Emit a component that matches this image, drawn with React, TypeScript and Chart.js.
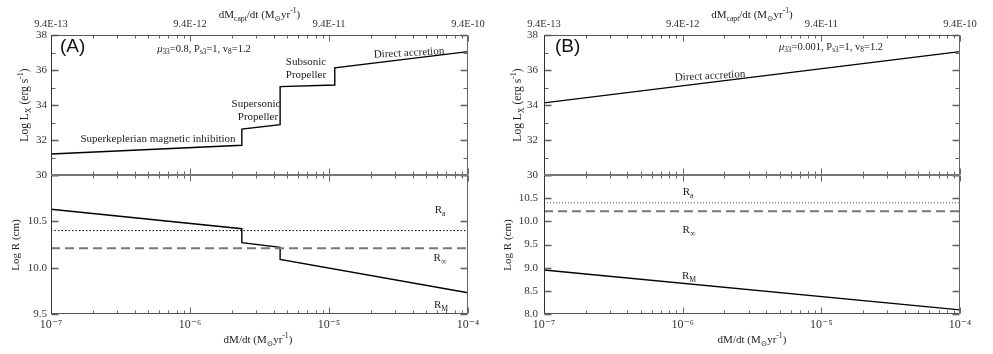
import React, { useEffect, useRef } from 'react';
import { Chart, registerables } from 'chart.js';
Chart.register(...registerables);

// ---------------- data ----------------
const X_MIN = 1e-7;
const X_MAX = 1e-4;
const X_MAJOR = [1e-7, 1e-6, 1e-5, 1e-4];
const X_BOTTOM_LABELS = ['10⁻⁷', '10⁻⁶', '10⁻⁵', '10⁻⁴'];
const X_TOP_LABELS = ['9.4E-13', '9.4E-12', '9.4E-11', '9.4E-10'];

const LX_MIN = 30;
const LX_MAX = 38;
const LX_LABELS = [30, 32, 34, 36, 38];

// Panel A
const A_LX_MDOT = [1e-7, 2.36e-6, 2.36e-6, 4.45e-6, 4.45e-6, 1.1e-5, 1.1e-5, 1e-4];
const A_LX_LOG = [31.2, 31.7, 32.62, 32.88, 35.05, 35.14, 36.12, 37.05];
const A_RM_MDOT = [1e-7, 2.36e-6, 2.36e-6, 4.45e-6, 4.45e-6, 1e-4];
const A_RM_LOG = [10.63, 10.42, 10.27, 10.22, 10.09, 9.73];
const A_RA = 10.4;
const A_RINF = 10.21;
const A_R_MIN = 9.5;
const A_R_MAX = 11.0;
const A_R_LABELS = [9.5, 10.0, 10.5];

// Panel B
const B_LX_MDOT = [1e-7, 1e-4];
const B_LX_LOG = [34.12, 37.05];
const B_RM_MDOT = [1e-7, 1e-4];
const B_RM_LOG = [8.95, 8.09];
const B_RA = 10.4;
const B_RINF = 10.22;
const B_R_MIN = 8.0;
const B_R_MAX = 11.0;
const B_R_LABELS = [8.0, 8.5, 9.0, 9.5, 10.0, 10.5];

const FLAT_MDOT = [1e-7, 1e-4];

// ---------------- styling helpers ----------------
const SERIF = '"Liberation Serif", "DejaVu Serif", serif';
const SANS = '"Liberation Sans", Arial, sans-serif';
const TXT = '#222';

type Part = [string, string?];
type TextItem = {
  x: number; y: number; parts: Part[]; size?: number;
  align?: 'left' | 'center'; rot?: number; family?: string; color?: string;
};

const TOP_TITLE: Part[] = [['dM'], ['capt', 'sub'], ['/dt (M'], ['⊙', 'sub'], ['yr'], ['-1', 'sup'], [')']];
const BOTTOM_TITLE: Part[] = [['dM/dt (M'], ['⊙', 'sub'], ['yr'], ['-1', 'sup'], [')']];
const LX_TITLE: Part[] = [['Log L'], ['X', 'sub'], [' (erg s'], ['-1', 'sup'], [')']];
const R_TITLE: Part[] = [['Log R (cm)']];

function drawRich(ctx: CanvasRenderingContext2D, t: TextItem, offX: number, offY: number) {
  const size = t.size ?? 11;
  const family = t.family ?? SERIF;
  const fontFor = (k?: string) => {
    const s = k === 'sub' || k === 'sup' ? size * 0.7 : size;
    return `${k === 'i' ? 'italic ' : ''}${s}px ${family}`;
  };
  ctx.save();
  ctx.translate(t.x - offX, t.y - offY);
  if (t.rot) ctx.rotate((t.rot * Math.PI) / 180);
  ctx.fillStyle = t.color ?? TXT;
  ctx.textBaseline = 'middle';
  ctx.textAlign = 'left';
  let total = 0;
  const ws = t.parts.map(([s, k]) => {
    ctx.font = fontFor(k);
    const w = ctx.measureText(s).width;
    total += w;
    return w;
  });
  let cx = t.align === 'left' ? 0 : -total / 2;
  t.parts.forEach(([s, k], i) => {
    ctx.font = fontFor(k);
    const dy = k === 'sub' ? size * 0.32 : k === 'sup' ? -size * 0.38 : 0;
    ctx.fillText(s, cx, dy);
    cx += ws[i];
  });
  ctx.restore();
}

function xTickValues() {
  const arr: number[] = [];
  for (let d = -7; d < -4; d++) for (let m = 1; m <= 9; m++) arr.push(m * Math.pow(10, d));
  arr.push(1e-4);
  return arr;
}
const isMajorX = (v: number) => X_MAJOR.some((m) => Math.abs(Math.log10(m) - Math.log10(v)) < 1e-6);

function lineDs(xs: number[], ys: number[], color: string, width: number, dash: number[] = []) {
  return {
    data: xs.map((x, i) => ({ x, y: ys[i] })),
    showLine: true,
    borderColor: color,
    borderWidth: width,
    borderDash: dash,
    pointRadius: 0,
    fill: false,
    tension: 0,
  };
}

type Cfg = {
  datasets: any[];
  xPos: 'top' | 'bottom';
  xLabels: string[];
  xHeight: number;
  xFont: number;
  xPad: number;
  yMin: number; yMax: number; yStep: number;
  yLabels: number[]; yDigits: number;
  yMajor: (v: number) => boolean;
  yWidth: number; yPad: number;
  padding: { left: number; right: number; top: number; bottom: number };
  offX: number; offY: number;
  texts: TextItem[];
  sepEdge: 'top' | 'bottom';
};

function buildConfig(c: Cfg): any {
  const decor = {
    id: 'decor',
    afterDraw(chart: any) {
      const { ctx, chartArea: a, scales } = chart;
      const L = Math.round(a.left) + 0.5;
      const R = Math.round(a.right) - 0.5;
      const T = Math.round(a.top) + 0.5;
      const B = Math.round(a.bottom) - 0.5;
      ctx.save();
      const seg = (x1: number, y1: number, x2: number, y2: number) => {
        ctx.beginPath(); ctx.moveTo(x1, y1); ctx.lineTo(x2, y2); ctx.stroke();
      };
      ctx.strokeStyle = '#666';
      ctx.lineWidth = 1;
      // x ticks
      const xs = scales.x;
      xs.ticks.forEach((t: any) => {
        const px = Math.round(xs.getPixelForValue(t.value)) + 0.5;
        const len = isMajorX(t.value) ? 6 : 3;
        seg(px, T, px, T + len);
        seg(px, B, px, B - len);
      });
      // y ticks
      const ys = scales.y;
      ys.ticks.forEach((t: any) => {
        const py = Math.round(ys.getPixelForValue(t.value)) + 0.5;
        const major = c.yMajor(t.value);
        const len = major ? 7 : 4;
        ctx.lineWidth = major ? 1.6 : 1;
        seg(L, py, L + len, py);
        seg(R, py, R - len, py);
      });
      // frame
      ctx.lineWidth = 1;
      ctx.strokeStyle = '#555';
      seg(L, T, R, T);
      seg(L, B, R, B);
      ctx.strokeStyle = '#333';
      seg(L, T, L, B);
      ctx.strokeStyle = '#666';
      seg(R, T, R, B);
      // separator (thicker grey)
      ctx.strokeStyle = '#777';
      ctx.lineWidth = 2;
      const sy = c.sepEdge === 'bottom' ? Math.round(a.bottom) : Math.round(a.top);
      seg(a.left, sy, a.right, sy);
      ctx.restore();
      c.texts.forEach((t) => drawRich(ctx, t, c.offX, c.offY));
    },
  };

  return {
    type: 'scatter',
    data: { datasets: c.datasets },
    options: {
      responsive: false,
      animation: false,
      events: [],
      layout: { padding: c.padding },
      plugins: { legend: { display: false }, tooltip: { enabled: false } },
      scales: {
        x: {
          type: 'logarithmic',
          position: c.xPos,
          min: X_MIN,
          max: X_MAX,
          grid: { display: false, drawTicks: false },
          border: { display: false },
          afterBuildTicks: (s: any) => {
            s.ticks = xTickValues().map((v) => ({ value: v }));
          },
          ticks: {
            autoSkip: false,
            maxRotation: 0,
            minRotation: 0,
            padding: c.xPad,
            color: '#333',
            font: { family: SERIF, size: c.xFont },
            callback: (v: number) => {
              const i = X_MAJOR.findIndex((m) => Math.abs(Math.log10(m) - Math.log10(v)) < 1e-6);
              return i >= 0 ? c.xLabels[i] : '';
            },
          },
          afterFit: (s: any) => {
            s.height = c.xHeight;
            s.paddingLeft = 0;
            s.paddingRight = 0;
          },
        },
        y: {
          type: 'linear',
          position: 'left',
          min: c.yMin,
          max: c.yMax,
          grid: { display: false, drawTicks: false },
          border: { display: false },
          afterBuildTicks: (s: any) => {
            const arr: any[] = [];
            for (let v = c.yMin; v <= c.yMax + 1e-9; v += c.yStep) arr.push({ value: +v.toFixed(3) });
            s.ticks = arr;
          },
          ticks: {
            autoSkip: false,
            padding: c.yPad,
            color: '#333',
            font: { family: SERIF, size: 11 },
            callback: (v: number) =>
              c.yLabels.some((l) => Math.abs(l - v) < 1e-9) ? v.toFixed(c.yDigits) : '',
          },
          afterFit: (s: any) => {
            s.width = c.yWidth;
            s.paddingTop = 0;
            s.paddingBottom = 0;
          },
        },
      },
    },
    plugins: [decor],
  };
}

function ChartCanvas({ left, top, width, height, cfg }: { left: number; top: number; width: number; height: number; cfg: Cfg }) {
  const ref = useRef<HTMLCanvasElement>(null);
  useEffect(() => {
    const chart = new Chart(ref.current as HTMLCanvasElement, buildConfig(cfg));
    return () => chart.destroy();
  }, []);
  return (
    <canvas
      ref={ref}
      width={width}
      height={height}
      style={{ position: 'absolute', left, top, width, height }}
    />
  );
}

// ---------------- panels ----------------
const TOP_H = 190;
const BOT_TOP = 160;
const BOT_H = 194;

const lxMajor = (v: number) => Math.round(v) % 2 === 0;
const allMajor = () => true;

const A_TOP: Cfg = {
  datasets: [lineDs(A_LX_MDOT, A_LX_LOG, '#000', 1.4)],
  xPos: 'top', xLabels: X_TOP_LABELS, xHeight: 35, xFont: 10.5, xPad: 4,
  yMin: LX_MIN, yMax: LX_MAX, yStep: 1, yLabels: LX_LABELS, yDigits: 0, yMajor: lxMajor,
  yWidth: 51, yPad: 4,
  padding: { left: 0, right: 28, top: 0, bottom: TOP_H - 175 },
  offX: 0, offY: 0,
  sepEdge: 'bottom',
  texts: [
    { x: 60, y: 47, parts: [['(A)']], size: 19, align: 'left', family: SANS, color: '#111' },
    { x: 204, y: 49, parts: [['μ', 'i'], ['33', 'sub'], ['=0.8, P'], ['s3', 'sub'], ['=1, v'], ['8', 'sub'], ['=1.2']], size: 10.5 },
    { x: 158, y: 139, parts: [['Superkeplerian magnetic inhibition']], size: 11 },
    { x: 256, y: 104, parts: [['Supersonic']], size: 11 },
    { x: 258, y: 117, parts: [['Propeller']], size: 11 },
    { x: 306, y: 62, parts: [['Subsonic']], size: 11 },
    { x: 306, y: 75, parts: [['Propeller']], size: 11 },
    { x: 409, y: 53, parts: [['Direct accretion']], size: 11, rot: -3 },
    { x: 259.5, y: 15, parts: TOP_TITLE, size: 11 },
    { x: 25, y: 105, parts: LX_TITLE, size: 11.5, rot: -90 },
  ],
};

const A_BOT: Cfg = {
  datasets: [
    lineDs(FLAT_MDOT, [A_RA, A_RA], '#000', 1, [1.5, 2]),
    lineDs(FLAT_MDOT, [A_RINF, A_RINF], '#777', 2, [9, 5]),
    lineDs(A_RM_MDOT, A_RM_LOG, '#000', 1.4),
  ],
  xPos: 'bottom', xLabels: X_BOTTOM_LABELS, xHeight: 40, xFont: 12, xPad: 4,
  yMin: A_R_MIN, yMax: A_R_MAX, yStep: 0.5, yLabels: A_R_LABELS, yDigits: 1, yMajor: allMajor,
  yWidth: 51, yPad: 4,
  padding: { left: 0, right: 28, top: 175 - BOT_TOP, bottom: 0 },
  offX: 0, offY: BOT_TOP,
  sepEdge: 'top',
  texts: [
    { x: 440, y: 210, parts: [['R'], ['a', 'sub']], size: 11 },
    { x: 440, y: 258, parts: [['R'], ['∞', 'sub']], size: 11 },
    { x: 441, y: 305, parts: [['R'], ['M', 'sub']], size: 11 },
    { x: 258, y: 340, parts: BOTTOM_TITLE, size: 11 },
    { x: 16, y: 245, parts: R_TITLE, size: 11, rot: -90 },
  ],
};

const B_TOP: Cfg = {
  datasets: [lineDs(B_LX_MDOT, B_LX_LOG, '#000', 1.4)],
  xPos: 'top', xLabels: X_TOP_LABELS, xHeight: 35, xFont: 10.5, xPad: 4,
  yMin: LX_MIN, yMax: LX_MAX, yStep: 1, yLabels: LX_LABELS, yDigits: 0, yMajor: lxMajor,
  yWidth: 48, yPad: 6,
  padding: { left: 0, right: 33, top: 0, bottom: TOP_H - 175 },
  offX: 496, offY: 0,
  sepEdge: 'bottom',
  texts: [
    { x: 555, y: 47, parts: [['(B)']], size: 19, align: 'left', family: SANS, color: '#111' },
    { x: 831, y: 47, parts: [['μ', 'i'], ['33', 'sub'], ['=0.001, P'], ['s3', 'sub'], ['=1, v'], ['8', 'sub'], ['=1.2']], size: 10.5 },
    { x: 710, y: 76, parts: [['Direct accretion']], size: 11, rot: -3 },
    { x: 752, y: 15, parts: TOP_TITLE, size: 11 },
    { x: 518, y: 105, parts: LX_TITLE, size: 11.5, rot: -90 },
  ],
};

const B_BOT: Cfg = {
  datasets: [
    lineDs(FLAT_MDOT, [B_RA, B_RA], '#555', 1, [1, 2]),
    lineDs(FLAT_MDOT, [B_RINF, B_RINF], '#777', 2, [9, 5]),
    lineDs(B_RM_MDOT, B_RM_LOG, '#000', 1.4),
  ],
  xPos: 'bottom', xLabels: X_BOTTOM_LABELS, xHeight: 40, xFont: 12, xPad: 4,
  yMin: B_R_MIN, yMax: B_R_MAX, yStep: 0.5, yLabels: B_R_LABELS, yDigits: 1, yMajor: allMajor,
  yWidth: 48, yPad: 6,
  padding: { left: 0, right: 33, top: 175 - BOT_TOP, bottom: 0 },
  offX: 496, offY: BOT_TOP,
  sepEdge: 'top',
  texts: [
    { x: 688, y: 192, parts: [['R'], ['a', 'sub']], size: 11 },
    { x: 689, y: 230, parts: [['R'], ['∞', 'sub']], size: 11 },
    { x: 689, y: 276, parts: [['R'], ['M', 'sub']], size: 11 },
    { x: 752, y: 340, parts: BOTTOM_TITLE, size: 11 },
    { x: 508, y: 245, parts: R_TITLE, size: 11, rot: -90 },
  ],
};

export default function App() {
  return (
    <div style={{ position: 'fixed', left: 0, top: 0, width: 993, height: 354, background: '#fff', overflow: 'hidden' }}>
      <ChartCanvas left={0} top={0} width={496} height={TOP_H} cfg={A_TOP} />
      <ChartCanvas left={0} top={BOT_TOP} width={496} height={BOT_H} cfg={A_BOT} />
      <ChartCanvas left={496} top={0} width={497} height={TOP_H} cfg={B_TOP} />
      <ChartCanvas left={496} top={BOT_TOP} width={497} height={BOT_H} cfg={B_BOT} />
    </div>
  );
}
